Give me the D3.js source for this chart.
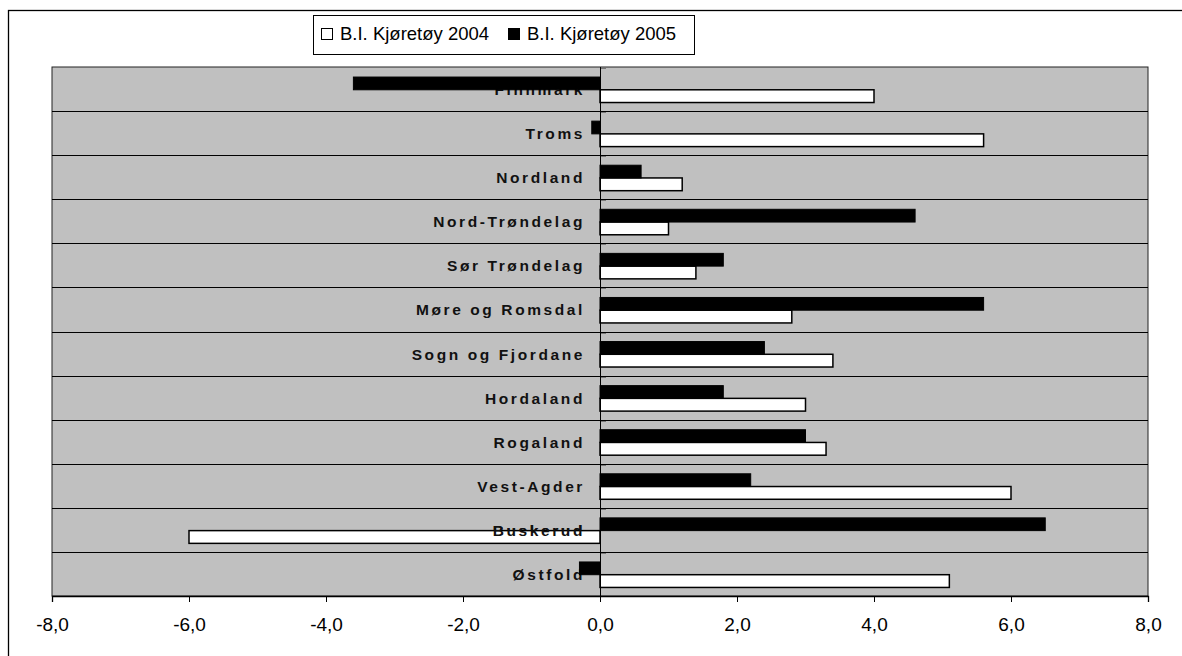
<!DOCTYPE html>
<html lang="no">
<head>
	<meta charset="utf-8">
	<title>B.I. Kjøretøy 2004 / 2005</title>
	<script src="https://d3js.org/d3.v7.min.js" charset="utf-8"></script>
	<style>
		body { margin: 0; background: #fff; }
		svg { display: block; font-family: "Liberation Sans", Arial, sans-serif; }
	</style>
</head>
<body>
	<div id="main"></div>

	<script>

		var fylker = ["Finnmark", "Troms", "Nordland", "Nord-Trøndelag", "Sør Trøndelag",
			"Møre og Romsdal", "Sogn og Fjordane", "Hordaland", "Rogaland", "Vest-Agder",
			"Buskerud", "Østfold"]
		var kjoretoy2004 = [4.0, 5.6, 1.2, 1.0, 1.4, 2.8, 3.4, 3.0, 3.3, 6.0, -6.0, 5.1]
		var kjoretoy2005 = [-3.6, -0.12, 0.6, 4.6, 1.8, 5.6, 2.4, 1.8, 3.0, 2.2, 6.5, -0.3]
		var seriesNames = ["B.I. Kjøretøy 2004", "B.I. Kjøretøy 2005"]
		var xTicks = [-8, -6, -4, -2, 0, 2, 4, 6, 8]

		var width = 1182
		var height = 656
		var plot = {left: 52, right: 1148, top: 67, bottom: 596}

		var svg = d3.select("#main").append("svg")
			.attr("width", width)
			.attr("height", height);

		// outer chart frame (right and bottom fall outside the picture)
		svg.append("rect")
			.attr("x", 8.5).attr("y", 10.5)
			.attr("width", 1200).attr("height", 700)
			.attr("fill", "#fff")
			.attr("stroke", "#000")
			.attr("stroke-width", 1.3);

		var x = d3.scaleLinear()
			.domain([-8, 8])
			.range([plot.left, plot.right]);

		var y = d3.scaleBand()
			.domain(fylker)
			.range([plot.top, plot.bottom])
			.padding(0);

		var ySeries = d3.scaleBand()
			.domain(["2005", "2004"])
			.range([0, y.bandwidth()])
			.paddingInner(0)
			.paddingOuter(0.73)
			.align(0.54);

		// plot area
		svg.append("rect")
			.attr("x", plot.left).attr("y", plot.top)
			.attr("width", plot.right - plot.left)
			.attr("height", plot.bottom - plot.top)
			.attr("fill", "#c0c0c0")
			.attr("stroke", "#222")
			.attr("stroke-width", 1);

		// category boundaries
		svg.append("g")
			.selectAll("line")
			.data(fylker.slice(1))
			.enter()
			.append("line")
			.attr("x1", plot.left).attr("x2", plot.right)
			.attr("y1", function(d){ return Math.round(y(d)) + 0.5; })
			.attr("y2", function(d){ return Math.round(y(d)) + 0.5; })
			.attr("stroke", "#000")
			.attr("stroke-width", 1);

		// small ticks on the category axis
		svg.append("g")
			.selectAll("line")
			.data(fylker)
			.enter()
			.append("line")
			.attr("x1", x(0)).attr("x2", x(0) + 6)
			.attr("y1", function(d){ return Math.round(y(d)) + 1.5; })
			.attr("y2", function(d){ return Math.round(y(d)) + 1.5; })
			.attr("stroke", "#777")
			.attr("stroke-width", 1);

		// bottom value axis
		var xAxis = svg.append("g")
			.attr("transform", "translate(0," + plot.bottom + ")")
			.call(d3.axisBottom(x)
				.tickValues(xTicks)
				.tickSize(6)
				.tickPadding(16)
				.tickFormat(function(d){ return d3.format(".1f")(d).replace(".", ",").replace("−", "-"); }));

		xAxis.select(".domain")
			.attr("stroke", "#000")
			.attr("stroke-width", 1.3);
		xAxis.selectAll(".tick line").attr("stroke", "#000");
		xAxis.selectAll(".tick text")
			.attr("font-size", 19)
			.attr("font-family", "Liberation Sans, Arial, sans-serif")
			.attr("fill", "#000");

		var rows = fylker.map(function(f, i){
			return {name: f, v2004: kjoretoy2004[i], v2005: kjoretoy2005[i]};
		});

		function drawLabels(sel){
			sel.append("text")
				.attr("x", x(0) - 15)
				.attr("y", function(d){ return y(d.name) + y.bandwidth() / 2 + 6; })
				.attr("text-anchor", "end")
				.attr("font-size", 15.5)
				.attr("font-weight", "bold")
				.attr("letter-spacing", 2.6)
				.attr("fill", "#111")
				.text(function(d){ return d.name; });
		}

		// category labels (bars are drawn over them)
		svg.append("g")
			.selectAll("text")
			.data(rows)
			.enter()
			.call(drawLabels);

		var bars = svg.append("g");

		bars.selectAll("rect.b2004")
			.data(rows)
			.enter()
			.append("rect")
			.attr("class", "b2004")
			.attr("x", function(d){ return x(Math.min(0, d.v2004)); })
			.attr("y", function(d){ return y(d.name) + ySeries("2004"); })
			.attr("width", function(d){ return Math.abs(x(d.v2004) - x(0)); })
			.attr("height", ySeries.bandwidth())
			.attr("fill", "#fff")
			.attr("stroke", "#000")
			.attr("stroke-width", 1.5);

		bars.selectAll("rect.b2005")
			.data(rows)
			.enter()
			.append("rect")
			.attr("class", "b2005")
			.attr("x", function(d){ return x(Math.min(0, d.v2005)); })
			.attr("y", function(d){ return y(d.name) + ySeries("2005"); })
			.attr("width", function(d){ return Math.abs(x(d.v2005) - x(0)); })
			.attr("height", ySeries.bandwidth())
			.attr("fill", "#000")
			.attr("stroke", "#000")
			.attr("stroke-width", 1);

		// vertical category axis at zero
		svg.append("line")
			.attr("x1", Math.round(x(0)) + 0.5).attr("x2", Math.round(x(0)) + 0.5)
			.attr("y1", plot.top).attr("y2", plot.bottom)
			.attr("stroke", "#000")
			.attr("stroke-width", 1);

		// the label shows over the white Buskerud bar
		svg.append("g")
			.selectAll("text")
			.data(rows.filter(function(d){ return d.v2004 < 0; }))
			.enter()
			.call(drawLabels);

		// legend
		var legend = svg.append("g");

		legend.append("rect")
			.attr("x", 313.5).attr("y", 15.5)
			.attr("width", 381).attr("height", 39)
			.attr("fill", "#fff")
			.attr("stroke", "#000")
			.attr("stroke-width", 1);

		var legendItems = [
			{name: seriesNames[0], fill: "#fff", x: 321},
			{name: seriesNames[1], fill: "#000", x: 508}
		];

		legend.selectAll("rect.key")
			.data(legendItems)
			.enter()
			.append("rect")
			.attr("class", "key")
			.attr("x", function(d){ return d.x + 0.5; })
			.attr("y", 28.5)
			.attr("width", 11).attr("height", 11)
			.attr("fill", function(d){ return d.fill; })
			.attr("stroke", "#000")
			.attr("stroke-width", 1);

		legend.selectAll("text")
			.data(legendItems)
			.enter()
			.append("text")
			.attr("x", function(d){ return d.x + 19; })
			.attr("y", 40)
			.attr("font-size", 18.5)
			.attr("fill", "#000")
			.text(function(d){ return d.name; });

	</script>
</body>
</html>
